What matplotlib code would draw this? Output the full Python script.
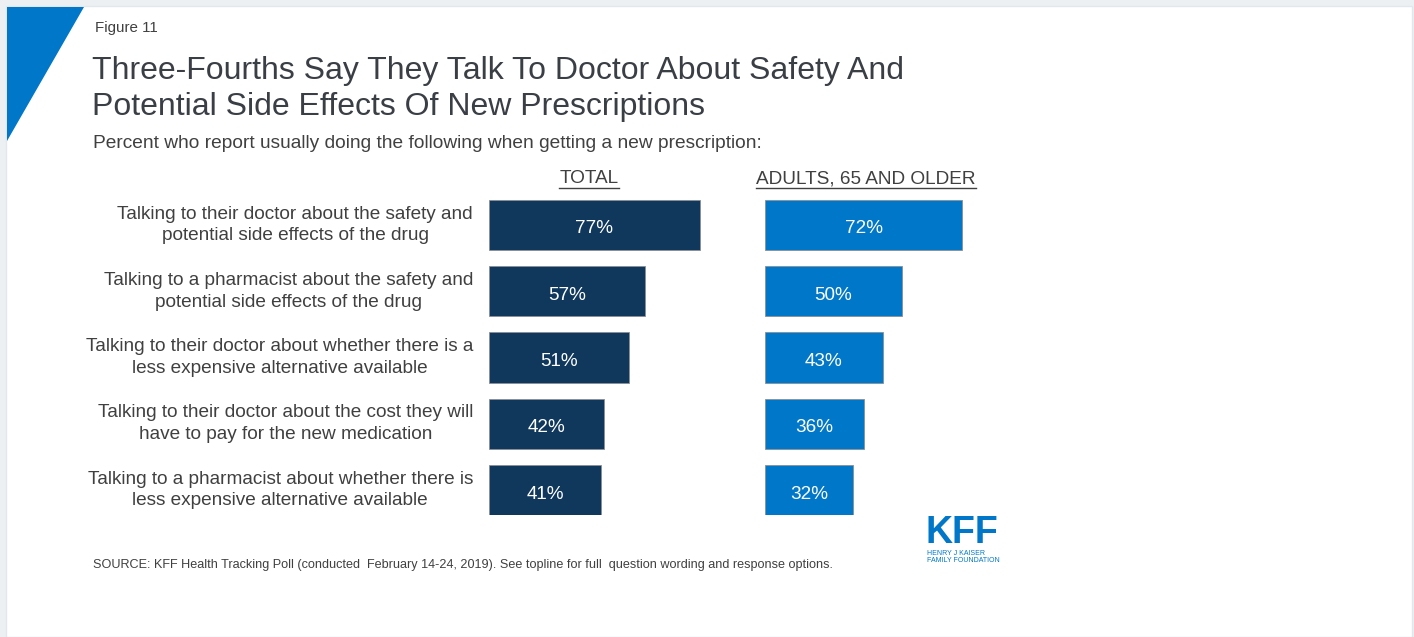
import matplotlib
matplotlib.use('Agg')
import matplotlib.pyplot as plt
from matplotlib import transforms
from matplotlib.patches import Polygon, Rectangle

W, H = 1414, 637

categories = [
    'Talking to their doctor about the safety and\npotential side effects of the drug',
    'Talking to a pharmacist about the safety and\npotential side effects of the drug',
    'Talking to their doctor about whether there is a\nless expensive alternative available',
    'Talking to their doctor about the cost they will\nhave to pay for the new medication',
    'Talking to a pharmacist about whether there is\nless expensive alternative available',
]
total = [77, 57, 51, 42, 41]
adults_65 = [72, 50, 43, 36, 32]
headers = ['TOTAL', 'ADULTS, 65 AND OLDER']

NAVY = '#0f385c'
BLUE = '#0077c8'
TEXT = '#404040'

plt.rcParams['font.family'] = ['Liberation Sans', 'DejaVu Sans']


def fx(x):
    return x / W


def fy(y):
    return 1 - y / H


fig = plt.figure(figsize=(W / 100, H / 100), dpi=100)
fig.patch.set_facecolor('#edf0f3')

# white card + blue corner triangle (kept behind the axes)
fig.patches.append(Rectangle((fx(6), 0), fx(1406), fy(6), transform=fig.transFigure,
                             facecolor='white', edgecolor='#e3e7eb', lw=1, zorder=-10))
fig.patches.append(Polygon([(fx(7), fy(7)), (fx(84), fy(7)), (fx(7), fy(141))],
                           closed=True, transform=fig.transFigure, facecolor=BLUE,
                           edgecolor='none', zorder=-9))

fig.text(fx(95), fy(28), 'Figure 11', fontsize=10.9, color=TEXT, va='center')
fig.text(fx(92), fy(89), 'Three-Fourths Say They Talk To Doctor About Safety And\n'
         'Potential Side Effects Of New Prescriptions', fontsize=23, color='#3a3e45',
         va='center', linespacing=1.3)
fig.text(fx(93), fy(144), 'Percent who report usually doing the following when getting a new prescription:',
         fontsize=13.8, color=TEXT, va='center')

scale = 2.74  # px per percent
ax_w = 270
ax_top, ax_bot = 200, 515
panels = [(489, total, NAVY), (765, adults_65, BLUE)]
axes = []
for left, vals, col in panels:
    ax = fig.add_axes([fx(left), fy(ax_bot), fx(ax_w), (ax_bot - ax_top) / H])
    ax.set_xlim(0, ax_w / scale)
    ax.set_ylim(len(vals) - 1 + 0.377, -0.377)
    ax.barh(range(len(vals)), vals, height=0.755, color=col, edgecolor='#8a8f96', lw=0.6)
    for i, v in enumerate(vals):
        ax.text(v / 2, i + 0.03, f'{v}%', ha='center', va='center_baseline', color='white',
                fontsize=13.6)
    ax.axis('off')
    axes.append(ax)

tr = transforms.blended_transform_factory(fig.transFigure, axes[0].transData)
for i, c in enumerate(categories):
    axes[0].text(fx(473), i, c, transform=tr, ha='right', va='center', multialignment='center',
                 fontsize=13.7, color=TEXT, linespacing=1.38)

fig.canvas.draw()
renderer = fig.canvas.get_renderer()
for name, cx in zip(headers, [589, 866]):
    t = fig.text(fx(cx), fy(179), name, ha='center', va='center', fontsize=13.7, color=TEXT)
    bb = t.get_window_extent(renderer).transformed(fig.transFigure.inverted())
    fig.lines.append(plt.Line2D([bb.x0, bb.x1], [bb.y0 - 0.001, bb.y0 - 0.001],
                                transform=fig.transFigure, color=TEXT, lw=1))

fig.text(fx(93), fy(565), 'SOURCE: KFF Health Tracking Poll (conducted  February 14-24, 2019). '
         'See topline for full  question wording and response options.',
         fontsize=9.1, color=TEXT, va='center')

fig.text(fx(925), fy(533), 'KFF', fontsize=27, fontweight='bold', color=BLUE, va='center')
fig.text(fx(927), fy(557), 'HENRY J KAISER\nFAMILY FOUNDATION', fontsize=5, color=BLUE,
         va='center', linespacing=1.0)

fig.savefig('out.png', dpi=100, facecolor=fig.get_facecolor())
